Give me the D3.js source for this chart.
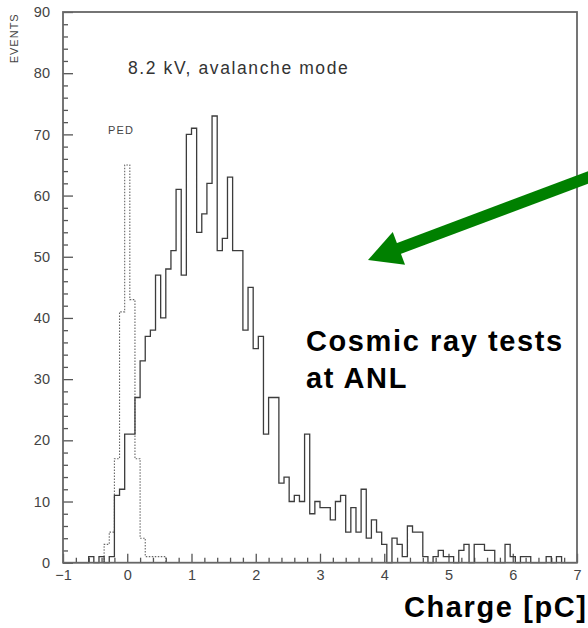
<!DOCTYPE html>
<html><head><meta charset="utf-8">
<script src="https://cdn.jsdelivr.net/npm/d3@7"></script>
<style>body{margin:0;background:#fff}svg{display:block}</style>
</head><body><svg id="c" width="588" height="628"></svg>
<script>
// ---- data ----
const binStart = -1, binWidth = 0.08, nBins = 100;
const counts = [
  0,0,0,0,0,1,0,1,0,1,
  11,12,21,21,27,33,37,38,47,40,
  48,51,61,47,70,71,54,57,62,73,
  51,53,63,51,51,38,45,35,37,21,
  27,27,13,14,10,11,10,21,8,10,
  9,9,7,10,11,5,9,5,12,4,
  7,5,3,0,4,3,1,6,5,5,
  1,0,1,2,1,1,0,2,3,0,
  3,3,2,2,0,0,3,1,0,1,
  1,0,0,0,1,0,1,0,0,0];
const pedCounts = [
  0,0,0,0,0,0,0,0,3,5,
  17,41,65,43,17,4,1,1,1,1,
  0,0,0,0,0,0,0,0,0,0,
  0,0,0,0,0,0,0,0,0,0,
  0,0,0,0,0,0,0,0,0,0,
  0,0,0,0,0,0,0,0,0,0,
  0,0,0,0,0,0,0,0,0,0,
  0,0,0,0,0,0,0,0,0,0,
  0,0,0,0,0,0,0,0,0,0,
  0,0,0,0,0,0,0,0,0,0];
const xTicks = [-1,0,1,2,3,4,5,6,7];
const xTickLabels = ["\u22121","0","1","2","3","4","5","6","7"];
const yTicks = [0,10,20,30,40,50,60,70,80,90];
const yTickLabels = ["0","10","20","30","40","50","60","70","80","90"];
const yLabel = "EVENTS";
const subtitle = "8.2 kV, avalanche mode";
const pedLabel = "PED";
const note1 = "Cosmic ray tests", note2 = "at ANL";
const xTitle = "Charge [pC]";

// ---- layout ----
const svg = d3.select("#c");
const L = 63, R = 577, T = 12, B = 562.7;
const x = d3.scaleLinear().domain([-1, 7]).range([L, R]);
const y = d3.scaleLinear().domain([0, 90]).range([B, T]);
const font = "'Liberation Sans', Arial, Helvetica, sans-serif";
const axisCol = "#555", textCol = "#444";

svg.append("rect").attr("width",588).attr("height",628).attr("fill","#fff");

// minor ticks
const xMinor = d3.range(-1, 7.0001, 0.2).filter(v => Math.abs(v - Math.round(v)) > 1e-6);
const yMinor = d3.range(0, 90.001, 2).filter(v => v % 10 !== 0);

const gx = svg.append("g").attr("transform", `translate(0,${B})`);
gx.call(d3.axisBottom(x).tickValues(xMinor).tickSize(-5).tickFormat(""));
gx.call(g => g.select(".domain").remove());
const gx2 = svg.append("g").attr("transform", `translate(0,${B})`);
gx2.call(d3.axisBottom(x).tickValues(xTicks).tickSize(-9).tickPadding(7)
  .tickFormat((d,i) => xTickLabels[i]));
gx2.call(g => g.select(".domain").remove());

const gy = svg.append("g").attr("transform", `translate(${L},0)`);
gy.call(d3.axisLeft(y).tickValues(yMinor).tickSize(-5).tickFormat(""));
gy.call(g => g.select(".domain").remove());
const gy2 = svg.append("g").attr("transform", `translate(${L},0)`);
gy2.call(d3.axisLeft(y).tickValues(yTicks).tickSize(-10).tickPadding(13)
  .tickFormat((d,i) => yTickLabels[i]));
gy2.call(g => g.select(".domain").remove());

svg.selectAll(".tick line").attr("stroke", axisCol).attr("stroke-width", 1.3);
svg.selectAll(".tick text").attr("fill", textCol).style("font-family", font).style("font-size", "14.5px");

// histogram outlines
function outline(vals, from, to) {
  const pts = [[binStart + from * binWidth, 0]];
  for (let i = from; i < to; i++) {
    const x0 = binStart + i * binWidth, x1 = x0 + binWidth;
    pts.push([x0, vals[i]], [x1, vals[i]]);
  }
  pts.push([binStart + to * binWidth, 0]);
  return pts;
}
const line = d3.line().x(d => x(d[0])).y(d => y(d[1]));

let p0 = pedCounts.findIndex(v => v > 0);
let p1 = pedCounts.length - [...pedCounts].reverse().findIndex(v => v > 0);
svg.append("path").attr("d", line(outline(pedCounts, p0, p1)))
  .attr("fill","none").attr("stroke","#666").attr("stroke-width",1.1)
  .attr("stroke-dasharray","1.5,1.5");

svg.append("path").attr("d", line(outline(counts, 0, nBins)))
  .attr("fill","none").attr("stroke","#3c3c3c").attr("stroke-width",1.3);

// frame
svg.append("rect").attr("x",L).attr("y",T).attr("width",R-L).attr("height",B-T)
  .attr("fill","none").attr("stroke","#666").attr("stroke-width",1.8);

// texts
svg.append("text").attr("transform","translate(18.3,63.3) rotate(-90)")
  .attr("fill",textCol).style("font-family",font).style("font-size","11px")
  .style("letter-spacing","1px").text(yLabel);
svg.append("text").attr("x",128).attr("y",74).attr("fill","#333")
  .style("font-family",font).style("font-size","17.5px").style("letter-spacing","1.6px")
  .text(subtitle);
svg.append("text").attr("x",108).attr("y",134).attr("fill",textCol)
  .style("font-family",font).style("font-size","11px").style("letter-spacing","1.2px")
  .text(pedLabel);

const bold = s => s.attr("fill","#000").style("font-family",font).style("font-weight","bold")
  .style("font-size","29px").style("letter-spacing","1.6px");
svg.append("text").attr("x",306).attr("y",350.5).call(bold).text(note1);
svg.append("text").attr("x",306).attr("y",388).call(bold).text(note2);
svg.append("text").attr("x",404).attr("y",617).call(bold).text(xTitle);

// green arrow annotation
const tip = [368, 260], u = [-0.936, 0.351], nrm = [0.351, 0.936];
const start = [600, 260 - 0.351 * (600 - 368) / 0.936];
const headL = 33, headW = 17.5;
const base = [tip[0] - u[0]*headL, tip[1] - u[1]*headL];
svg.append("line").attr("x1",start[0]).attr("y1",start[1])
  .attr("x2",tip[0] - u[0]*(headL-4)).attr("y2",tip[1] - u[1]*(headL-4))
  .attr("stroke","#008000").attr("stroke-width",11.5);
svg.append("polygon").attr("fill","#008000").attr("points",[
  tip, [base[0]+nrm[0]*headW, base[1]+nrm[1]*headW],
  [base[0]-nrm[0]*headW, base[1]-nrm[1]*headW]].map(p=>p.join(",")).join(" "));
</script></body></html>
